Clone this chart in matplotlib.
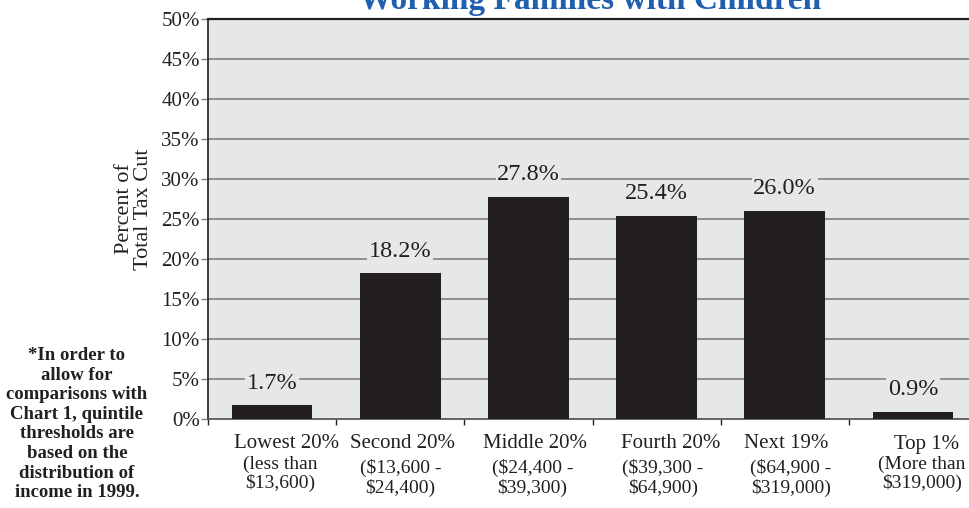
import matplotlib
matplotlib.use('Agg')
import matplotlib.pyplot as plt
import matplotlib.transforms as mtransforms
import numpy as np

# data
groups = ['Lowest 20%', 'Second 20%', 'Middle 20%', 'Fourth 20%', 'Next 19%', 'Top 1%']
ranges = ['(less than\n$13,600)', '($13,600 -\n$24,400)', '($24,400 -\n$39,300)',
          '($39,300 -\n$64,900)', '($64,900 -\n$319,000)', '(More than\n$319,000)']
shares = [1.7, 18.2, 27.8, 25.4, 26.0, 0.9]
yticks = [0, 5, 10, 15, 20, 25, 30, 35, 40, 45, 50]

title = 'Working Families with Children'
ylabel = 'Percent of\nTotal Tax Cut'
footnote = ('*In order to\nallow for\ncomparisons with\nChart 1, quintile\n'
            'thresholds are\nbased on the\ndistribution of\nincome in 1999.')

bg = '#e6e7e8'
ink = '#231f20'
grid_col = '#808080'
blue = '#1f5fae'

plt.rcParams['font.family'] = ['Liberation Serif', 'DejaVu Serif']

fig = plt.figure(figsize=(9.69, 5.08), dpi=100)
ax = fig.add_axes([208/969, 1 - 419/508, (977 - 208)/969, 400/508])
ax.set_facecolor(bg)

x = np.arange(len(groups)) + 0.5
ax.bar(x, shares, width=0.63, color=ink, zorder=3)

ax.set_xlim(0, len(groups))
ax.set_ylim(0, 50)
ax.set_yticks(yticks)
ax.set_yticklabels([f'{t}%' for t in yticks], fontsize=15, color=ink)
for t in yticks[1:-1]:
    ax.axhline(t, color=grid_col, lw=1.2, zorder=1)

ax.set_xticks(np.arange(len(groups) + 1))
ax.set_xticklabels([])
ax.tick_params(axis='x', direction='out', length=4, width=1, color=ink)
ax.tick_params(axis='y', direction='out', length=5, width=1, color=grid_col, pad=1)

ax.spines['right'].set_visible(False)
ax.spines['top'].set_color(ink)
ax.spines['top'].set_linewidth(1.6)
ax.spines['left'].set_color(ink)
ax.spines['left'].set_linewidth(1.2)
ax.spines['bottom'].set_color('#5a5a5a')
ax.spines['bottom'].set_linewidth(1.3)

# value labels sit over the gridlines
for xi, v in zip(x, shares):
    ax.annotate(f'{v:.1f}%', (xi, v), xytext=(0, 16), textcoords='offset points',
                ha='center', va='center', fontsize=17.5, color=ink, zorder=4,
                bbox=dict(facecolor=bg, edgecolor='none', pad=1))

# category labels, nudged like the original
nudge = [0.11, 0.02, 0.05, 0.11, 0.01, 0.11]
sub_nudge = [0.06, 0.0, 0.03, 0.05, 0.05, 0.07]
sub_drop = [0, 4, 4, 4, 4, 0]
trans = mtransforms.blended_transform_factory(ax.transData, ax.transAxes)
for i, (g, r) in enumerate(zip(groups, ranges)):
    ax.text(x[i] + nudge[i], 0, g, transform=trans + mtransforms.ScaledTranslation(0, -25/100, fig.dpi_scale_trans),
            ha='center', va='center', fontsize=15, color=ink)
    ax.text(x[i] + sub_nudge[i], 0, r, transform=trans + mtransforms.ScaledTranslation(0, -(55 + sub_drop[i])/100, fig.dpi_scale_trans),
            ha='center', va='center', fontsize=14, color=ink, linespacing=1.08)

fig.text(590/969, 1 - 9/508, title, ha='center', va='baseline', fontsize=24,
         fontweight='bold', color=blue)
fig.text(134/969, 1 - 209/508, ylabel, ha='center', va='center', rotation=90,
         fontsize=16, color=ink, multialignment='center', linespacing=1.05)
fig.text(77/969, 1 - 347/508, footnote, ha='center', va='top', fontsize=13.5,
         fontweight='bold', color=ink, multialignment='center', linespacing=1.2)

fig.savefig('out.png', dpi=100)
